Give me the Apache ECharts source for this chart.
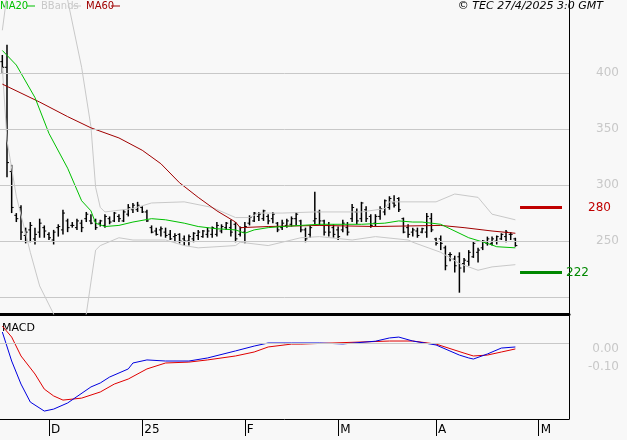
<!DOCTYPE html>
<html>
<head>
<meta charset="utf-8">
<script src="https://cdn.jsdelivr.net/npm/echarts@6/dist/echarts.min.js"></script>
<style>
html,body{margin:0;padding:0;background:#f8f8f8;}
#chart{width:627px;height:440px;}
</style>
</head>
<body>
<div id="chart"></div>
<script>
// price bars (index = trading day)
var opens  = [410,405,312,273,280,255,260,252,258,262,256,251,262,260,268,264,262,266,270,268,268,266,264,270,268,272,268,274,278,278,280,276,262,259,260,258,256,254,256,252,250,252,255,254,256,256,256,259,262,262,265,256,258,266,268,272,270,272,270,266,262,264,265,270,268,260,256,268,276,268,264,262,260,260,262,270,276,270,278,272,266,272,276,280,284,288,270,262,258,259,258,258,270,252,252,244,238,234,236,230,232,236,240,244,248,248,250,252,254,256,252];
var closes = [405,320,280,270,258,258,264,256,266,259,253,258,263,275,262,264,268,262,274,266,262,268,272,267,275,270,276,280,282,282,276,268,258,256,261,255,252,255,250,250,254,257,258,259,259,262,264,263,266,258,252,262,263,271,275,274,277,268,274,260,266,268,270,274,260,252,262,270,268,258,258,256,254,266,258,280,268,284,270,264,272,279,286,288,282,278,258,256,260,255,261,272,260,248,248,228,238,228,226,233,240,248,242,250,252,252,254,256,258,256,246];
var lows   = [400,307,275,267,251,248,249,247,253,253,251,247,254,256,258,262,260,258,267,265,260,263,262,265,267,267,267,272,275,276,275,267,257,255,254,253,251,249,248,246,246,249,251,253,253,253,254,257,260,254,249,254,248,264,267,268,268,265,266,258,260,262,263,264,258,249,253,265,264,255,254,253,251,258,255,267,265,267,267,262,263,269,273,278,280,276,257,253,254,253,257,253,258,246,242,224,232,222,204,222,228,235,231,242,246,246,247,251,249,251,245];
var highs  = [416,425,318,275,282,262,267,262,270,264,258,260,265,278,270,267,270,269,276,274,270,269,274,272,276,274,278,283,284,285,281,278,264,262,263,262,260,257,257,255,256,258,260,260,262,263,267,265,267,269,267,263,267,273,276,276,278,274,276,267,269,270,272,276,269,262,264,294,278,269,267,265,263,269,267,283,279,285,281,274,274,281,287,290,291,289,271,265,262,262,262,275,275,253,255,246,240,237,240,235,242,250,244,251,254,254,255,257,260,258,253];

// indicator lines as [day, value]
var ma20 = [[0,420],[3,407],[7,378],[10,346],[14,315],[17,286],[19,277],[20,266],[22,263],[25,264],[28,267],[32,270],[35,269],[39,266],[42,263],[46,261],[50,260],[52,257],[54,260],[57,262],[60,263],[64,264],[68,265],[77,265],[82,266],[85,268],[88,267],[90,267],[94,265],[96,261],[100,253],[104,248],[106,245],[110,244]];
var ma60 = [[0,390],[4,382],[8,374],[14,361],[19,351],[25,342],[30,331],[34,319],[38,302],[42,289],[46,277],[50,267],[51,262],[57,263],[68,264],[80,263],[94,264],[99,262],[105,259],[110,257]];
var bbUp = [[0,438],[1,470],[3,540],[8,560],[12,520],[14,465],[17,405],[19,352],[20,298],[21,280],[22,276],[28,279],[32,284],[39,285],[45,280],[50,271],[53,271],[55,275],[60,275],[67,276],[77,276],[82,279],[83,285],[93,285],[97,292],[102,289],[105,274],[110,269]];
var bbLow = [[0,405],[1,340],[3,290],[6,240],[8,210],[11,185],[12,150],[15,150],[18,185],[20,242],[21,246],[25,253],[28,251],[35,251],[39,246],[42,244],[50,246],[51,249],[57,246],[64,253],[68,254],[75,251],[80,254],[87,251],[88,249],[94,240],[98,230],[102,224],[105,227],[110,229]];
var macd = [[0,0.061],[2,-0.1],[4,-0.228],[6,-0.328],[9,-0.378],[11,-0.367],[14,-0.333],[19,-0.244],[21,-0.222],[23,-0.189],[27,-0.144],[28,-0.111],[31,-0.094],[35,-0.1],[40,-0.1],[44,-0.083],[50,-0.044],[54,-0.017],[57,0],[62,0],[68,0],[73,-0.005],[80,0.01],[83,0.028],[85,0.033],[88,0.011],[93,-0.011],[98,-0.067],[100,-0.083],[101,-0.089],[104,-0.061],[107,-0.028],[110,-0.022]];
var signal = [[0,0.094],[2,0.033],[4,-0.072],[7,-0.172],[9,-0.256],[11,-0.294],[13,-0.317],[17,-0.306],[21,-0.272],[24,-0.228],[27,-0.2],[31,-0.144],[35,-0.111],[40,-0.106],[44,-0.094],[50,-0.072],[54,-0.05],[57,-0.022],[62,-0.006],[64,-0.006],[83,0.011],[88,0.011],[93,-0.006],[99,-0.056],[101,-0.072],[104,-0.067],[107,-0.05],[110,-0.033]];

var priceTicks = [250, 300, 350, 400];
var priceGrid = [200, 250, 300, 350, 400];
var macdTicks = [0, -0.1];
var levels = {resist: 280, support: 222};
var monthNames = ['J','F','M','A','M','J','J','A','S','O','N','D'];

// trading days from 18 Nov 2024
var days = [];
var d = new Date(2024, 10, 18);
var holidays = ['2024-12-25', '2024-12-26', '2025-01-01'];
while (days.length < 122) {
    var wd = d.getDay();
    var key = d.getFullYear() + '-' + String(d.getMonth() + 1).padStart(2, '0') + '-' + String(d.getDate()).padStart(2, '0');
    if (wd != 0 && wd != 6 && holidays.indexOf(key) < 0) days.push(key);
    d.setDate(d.getDate() + 1);
}
function isMonthStart(idx) {
    if (idx == 0) return false;
    return days[idx].slice(5, 7) != days[idx - 1].slice(5, 7);
}
function monthLabel(v) {
    var m = +v.slice(5, 7);
    if (m == 1) return v.slice(2, 4);
    return monthNames[m - 1];
}

var bars = [];
for (var i = 0; i < closes.length; i++) bars.push([i, opens[i], closes[i], lows[i], highs[i]]);

var chart = echarts.init(document.getElementById('chart'));
var font = 'DejaVu Sans';
var option = {
    backgroundColor: '#f8f8f8',
    animation: false,
    textStyle: {fontFamily: font},
    grid: [
        {left: 0, top: 0, width: 569, height: 314},
        {left: 0, top: 316, width: 569, height: 103}
    ],
    xAxis: [{
        type: 'category', data: days, gridIndex: 0,
        axisLine: {onZero: false, lineStyle: {color: '#000', width: 3}},
        axisTick: {show: false}, axisLabel: {show: false}
    }, {
        type: 'category', data: days, gridIndex: 1,
        axisLine: {onZero: false, lineStyle: {color: '#000', width: 1}},
        axisTick: {show: true, alignWithLabel: true, length: 17, lineStyle: {color: '#000'},
            interval: function (idx) { return isMonthStart(idx); }},
        axisLabel: {color: '#000', fontSize: 12, align: 'left', margin: 5, padding: [0, 0, 0, 2],
            interval: function (idx) { return isMonthStart(idx); },
            formatter: monthLabel}
    }],
    yAxis: [{
        type: 'value', gridIndex: 0, position: 'right', min: 185, max: 465,
        splitLine: {show: false},
        axisLine: {show: true, lineStyle: {color: '#000'}},
        axisTick: {show: false},
        axisLabel: {color: '#c8c8c8', fontSize: 12, margin: 50, align: 'right', customValues: priceTicks}
    }, {
        type: 'value', gridIndex: 1, position: 'right', min: -0.422, max: 0.15,
        splitLine: {show: false},
        axisLine: {show: true, lineStyle: {color: '#000'}},
        axisTick: {show: false},
        axisLabel: {color: '#c8c8c8', fontSize: 12, margin: 50, align: 'right', verticalAlign: 'top',
            customValues: macdTicks,
            formatter: function (v) { return v.toFixed(2); }}
    }],
    graphic: [
        {type: 'text', left: 0, top: 1, style: {text: 'MA20', fill: '#00c000', font: '10px ' + font}},
        {type: 'line', shape: {x1: 27, y1: 6, x2: 35, y2: 6}, style: {stroke: '#00c000', lineWidth: 1}},
        {type: 'text', left: 41 , top: 1, style: {text: 'BBands', fill: '#c8c8c8', font: '10px ' + font}},
        {type: 'line', shape: {x1: 73, y1: 6, x2: 81, y2: 6}, style: {stroke: '#c8c8c8', lineWidth: 1}},
        {type: 'text', left: 86, top: 1, style: {text: 'MA60', fill: '#a00000', font: '10px ' + font}},
        {type: 'line', shape: {x1: 111, y1: 6, x2: 120, y2: 6}, style: {stroke: '#a00000', lineWidth: 1}},
        {type: 'text', right: 24, top: 1, style: {text: '© TEC 27/4/2025 3:0 GMT', fill: '#000', font: 'italic 11px ' + font}},
        {type: 'text', left: 2, top: 323, style: {text: 'MACD', fill: '#000', font: '11px ' + font}}
    ],
    series: [{
        type: 'line', xAxisIndex: 0, yAxisIndex: 0, data: bbUp, symbol: 'none',
        lineStyle: {color: '#c8c8c8', width: 1},
        markLine: {silent: true, symbol: 'none', label: {show: false},
            lineStyle: {color: '#c8c8c8', type: 'solid', width: 1},
            data: priceGrid.map(function (v) { return {yAxis: v}; })}
    }, {
        type: 'line', xAxisIndex: 0, yAxisIndex: 0, data: bbLow, symbol: 'none',
        lineStyle: {color: '#c8c8c8', width: 1}
    }, {
        type: 'custom', xAxisIndex: 0, yAxisIndex: 0, data: bars,
        renderItem: function (params, api) {
            var x = api.value(0);
            var o = api.coord([x, api.value(1)]);
            var c = api.coord([x, api.value(2)]);
            var l = api.coord([x, api.value(3)]);
            var h = api.coord([x, api.value(4)]);
            return {type: 'group', children: [
                {type: 'line', shape: {x1: l[0], y1: l[1], x2: h[0], y2: h[1]}, style: {stroke: '#000', lineWidth: 1.5}},
                {type: 'line', shape: {x1: o[0] - 2, y1: o[1], x2: o[0], y2: o[1]}, style: {stroke: '#000', lineWidth: 1}},
                {type: 'line', shape: {x1: c[0], y1: c[1], x2: c[0] + 2, y2: c[1]}, style: {stroke: '#000', lineWidth: 1}}
            ]};
        }
    }, {
        type: 'line', xAxisIndex: 0, yAxisIndex: 0, data: ma60, symbol: 'none',
        lineStyle: {color: '#a00000', width: 1}
    }, {
        type: 'line', xAxisIndex: 0, yAxisIndex: 0, data: ma20, symbol: 'none',
        lineStyle: {color: '#00c000', width: 1},
        markLine: {silent: true, symbol: 'none',
            data: [
                [{coord: [111, levels.resist], lineStyle: {color: '#c00000', width: 3, type: 'solid'},
                    label: {show: true, position: 'end', distance: 26, color: '#c00000', fontSize: 12, formatter: String(levels.resist)}},
                 {coord: [120, levels.resist]}],
                [{coord: [111, levels.support], lineStyle: {color: '#008800', width: 3, type: 'solid'},
                    label: {show: true, position: 'end', distance: 4, color: '#008800', fontSize: 12, formatter: String(levels.support)}},
                 {coord: [120, levels.support]}]
            ]}
    }, {
        type: 'line', xAxisIndex: 1, yAxisIndex: 1, data: signal, symbol: 'none',
        lineStyle: {color: '#e00000', width: 1},
        markLine: {silent: true, symbol: 'none', label: {show: false},
            lineStyle: {color: '#c8c8c8', type: 'solid', width: 1},
            data: [{yAxis: 0}]}
    }, {
        type: 'line', xAxisIndex: 1, yAxisIndex: 1, data: macd, symbol: 'none',
        lineStyle: {color: '#0000e0', width: 1}
    }]
};
chart.setOption(option);
</script>
</body>
</html>
